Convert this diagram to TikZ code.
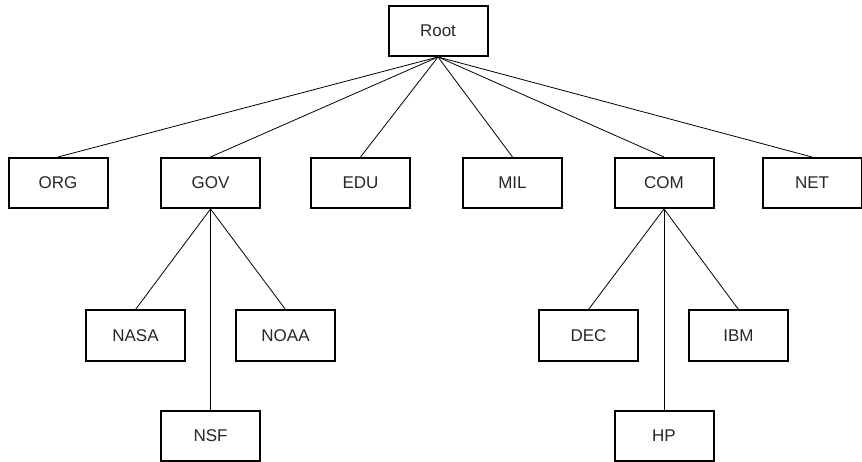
\documentclass[tikz,border=0pt]{standalone}
\usepackage{fontspec}
\setmainfont{Liberation Sans}
\begin{document}
\begin{tikzpicture}[x=1pt,y=-1pt,
  box/.style={draw=black,line width=2pt,minimum width=99pt,minimum height=50pt,inner sep=0pt,font=\fontsize{17}{20}\selectfont,text=black!85},
  link/.style={draw=black,line width=0.8pt}]
\useasboundingbox (0,0) rectangle (862,462);
\node[box] (root) at (438,31) {Root};
\node[box] (org) at (58,183) {ORG};
\node[box] (gov) at (210.5,183) {GOV};
\node[box] (edu) at (360.5,183) {EDU};
\node[box] (mil) at (512.5,183) {MIL};
\node[box] (com) at (664,183) {COM};
\node[box] (net) at (812,183) {NET};
\node[box] (nasa) at (135.5,335.5) {NASA};
\node[box] (noaa) at (285.5,335.5) {NOAA};
\node[box] (nsf) at (210.5,435.5) {NSF};
\node[box] (dec) at (588.5,335.5) {DEC};
\node[box] (ibm) at (738.5,335.5) {IBM};
\node[box] (hp) at (664,435.5) {HP};
\foreach \c in {org,gov,edu,mil,com,net}
  \draw[link] (root.south) -- (\c.north);
\foreach \c in {nasa,noaa,nsf}
  \draw[link] (gov.south) -- (\c.north);
\foreach \c in {dec,ibm,hp}
  \draw[link] (com.south) -- (\c.north);
\end{tikzpicture}
\end{document}
